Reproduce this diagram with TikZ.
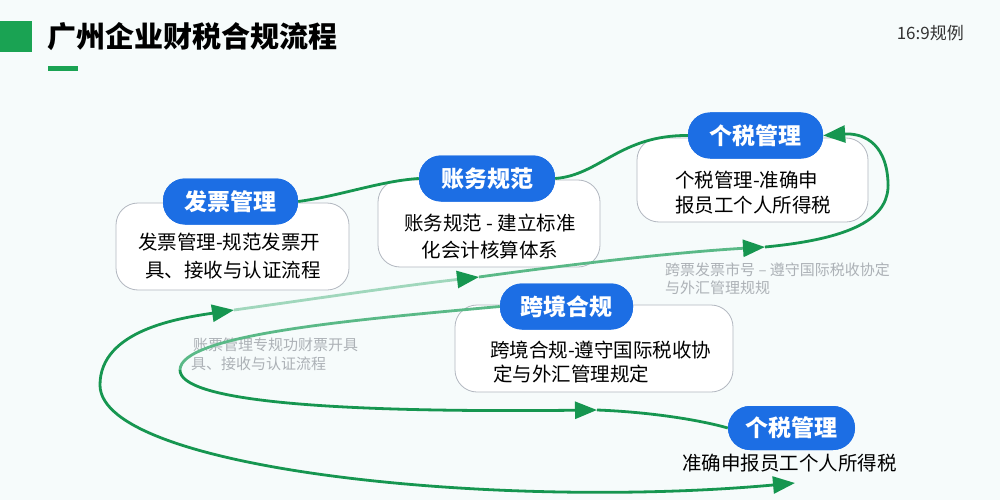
\documentclass[tikz,border=0pt]{standalone}
\usepackage{fontspec}
\setmainfont{Noto Sans CJK SC}
\usetikzlibrary{arrows.meta}
\definecolor{bg}{RGB}{246,251,251}
\definecolor{gline}{RGB}{22,150,80}
\definecolor{gmid}{RGB}{90,185,135}
\definecolor{glight}{RGB}{160,215,188}
\definecolor{pillblue}{RGB}{28,110,228}
\definecolor{boxline}{RGB}{178,183,192}
\definecolor{ghost}{RGB}{172,177,182}
\definecolor{tgreen}{RGB}{26,163,83}
\tikzset{
  pill/.style={fill=pillblue, rounded corners=22pt, minimum height=46pt, text=white,
    font=\fontsize{23}{26}\selectfont\bfseries, inner sep=0pt},
  card/.style={draw=boxline, line width=0.8pt, fill=white, rounded corners=22pt, inner sep=0pt},
  cardtext/.style={text=black, inner sep=0pt},
  ghosttext/.style={font=\fontsize{15}{18}\selectfont, align=left, text=ghost, inner sep=0pt},
  flow/.style={draw=gline, line width=2.8pt},
  flowlight/.style={draw=glight, line width=2.8pt},
  flowmid/.style={draw=gmid, line width=2.8pt},
  tip/.style={-{Triangle[length=22pt,width=17pt,color=gline]}},
  bothtip/.style={{Triangle[length=22pt,width=17pt,color=gline]}-{Triangle[length=22pt,width=17pt,color=gline]}},
}
\begin{document}
\begin{tikzpicture}[x=1pt,y=-1pt]
\useasboundingbox (0,0) rectangle (1000,500);
\fill[bg] (0,0) rectangle (1000,500);

% header
\fill[tgreen] (0,21) rectangle (32,52);
\node[anchor=west, inner sep=0pt, font=\fontsize{29}{32}\selectfont\bfseries] (title) at (47,37) {广州企业财税合规流程};
\fill[tgreen] (48,66) rectangle (78,71);
\node[anchor=east, inner sep=0pt, text=black!80, font=\fontsize{17}{20}\selectfont] (ratio) at (964,33) {16:9规例};

% cards
\node[card, minimum width=233pt, minimum height=87pt] (c1) at (232.5,246.5) {};
\node[card, minimum width=222pt, minimum height=87pt] (c2) at (489,223.5) {};
\node[card, minimum width=231pt, minimum height=84pt] (c3) at (752.5,180) {};
\node[card, minimum width=278pt, minimum height=87pt] (c4) at (594,348.5) {};

% ghost texts
\node[ghosttext, anchor=west] (g1) at (665,279) {跨票发票市号 – 遵守国际税收协定\\与外汇管理规规};
\node[ghosttext, anchor=west] (g2a) at (193,345) {账票管理专规功财票开具};
\node[ghosttext, anchor=west] (g2b) at (191,364) {具、接收与认证流程};

% coordinates for free-form connectors
\coordinate (o1) at (795,483);
\coordinate (o2) at (100,385);
\coordinate (o3) at (234,310);
\coordinate (o4) at (479,277);
\coordinate (o5) at (765,247);
\coordinate (o6) at (888,182);
\coordinate (i1) at (180,370);
\coordinate (i2) at (597,410);

% pills (for anchors)
\node[pill, minimum width=135pt] (p1) at (230.5,201.5) {发票管理};
\node[pill, minimum width=136pt] (p2) at (487,178.5) {账务规范};
\node[pill, minimum width=135pt] (p3) at (755.5,135.5) {个税管理};
\node[pill, minimum width=133pt] (p4) at (566.5,306.5) {跨境合规};
\node[pill, minimum width=127pt, minimum height=44pt] (p5) at (791.5,428) {个税管理};

% connectors
\draw[flow] (p1.east) .. controls (340,196) and (380,181) .. (p2.west);
\draw[flow] (p2.east) .. controls (600,175) and (620,135) .. (p3.west);
\draw[flow, bothtip] (o1) .. controls (500,510) and (100,470) .. (o2) .. controls (100,330) and (180,318) .. (o3);
\draw[flowlight, tip] (o3) .. controls (320,298) and (400,286) .. (o4);
\draw[flowmid, tip] (o4) .. controls (580,263) and (680,252) .. (o5);
\draw[flow, tip] (o5) .. controls (860,238) and (890,215) .. (o6) .. controls (886,140) and (860,133) .. (p3.east);
\draw[flowmid] (p4.west) .. controls (350,320) and (180,335) .. (i1);
\draw[flow, tip] (i1) .. controls (180,400) and (320,413) .. (i2);
\draw[flow] (i2) .. controls (650,412) and (700,420) .. (p5.west);

% redraw pills on top
\node[pill, minimum width=135pt] at (p1) {发票管理};
\node[pill, minimum width=136pt] at (p2) {账务规范};
\node[pill, minimum width=135pt] at (p3) {个税管理};
\node[pill, minimum width=133pt] at (p4) {跨境合规};
\node[pill, minimum width=127pt, minimum height=44pt] at (p5) {个税管理};

% card texts
\node[cardtext, anchor=west, align=left, font=\fontsize{19.5}{28}\selectfont] (t1) at (138,256) {发票管理-规范发票开\\\hspace{7pt}具、接收与认证流程};
\node[cardtext, align=center, font=\fontsize{19.5}{27}\selectfont] (t2) at (490,237) {账务规范 - 建立标准\\化会计核算体系};
\node[cardtext, anchor=west, align=left, font=\fontsize{19.5}{25}\selectfont] (t3) at (675,193) {个税管理-准确申\\报员工个人所得税};
\node[cardtext, anchor=west, align=left, font=\fontsize{19.5}{24}\selectfont] (t4) at (490,362) {跨境合规-遵守国际税收协\\\hspace{3pt}定与外汇管理规定};
\node[cardtext, anchor=west, font=\fontsize{19.5}{24}\selectfont] (t5) at (682,463) {准确申报员工个人所得税};
\end{tikzpicture}
\end{document}
